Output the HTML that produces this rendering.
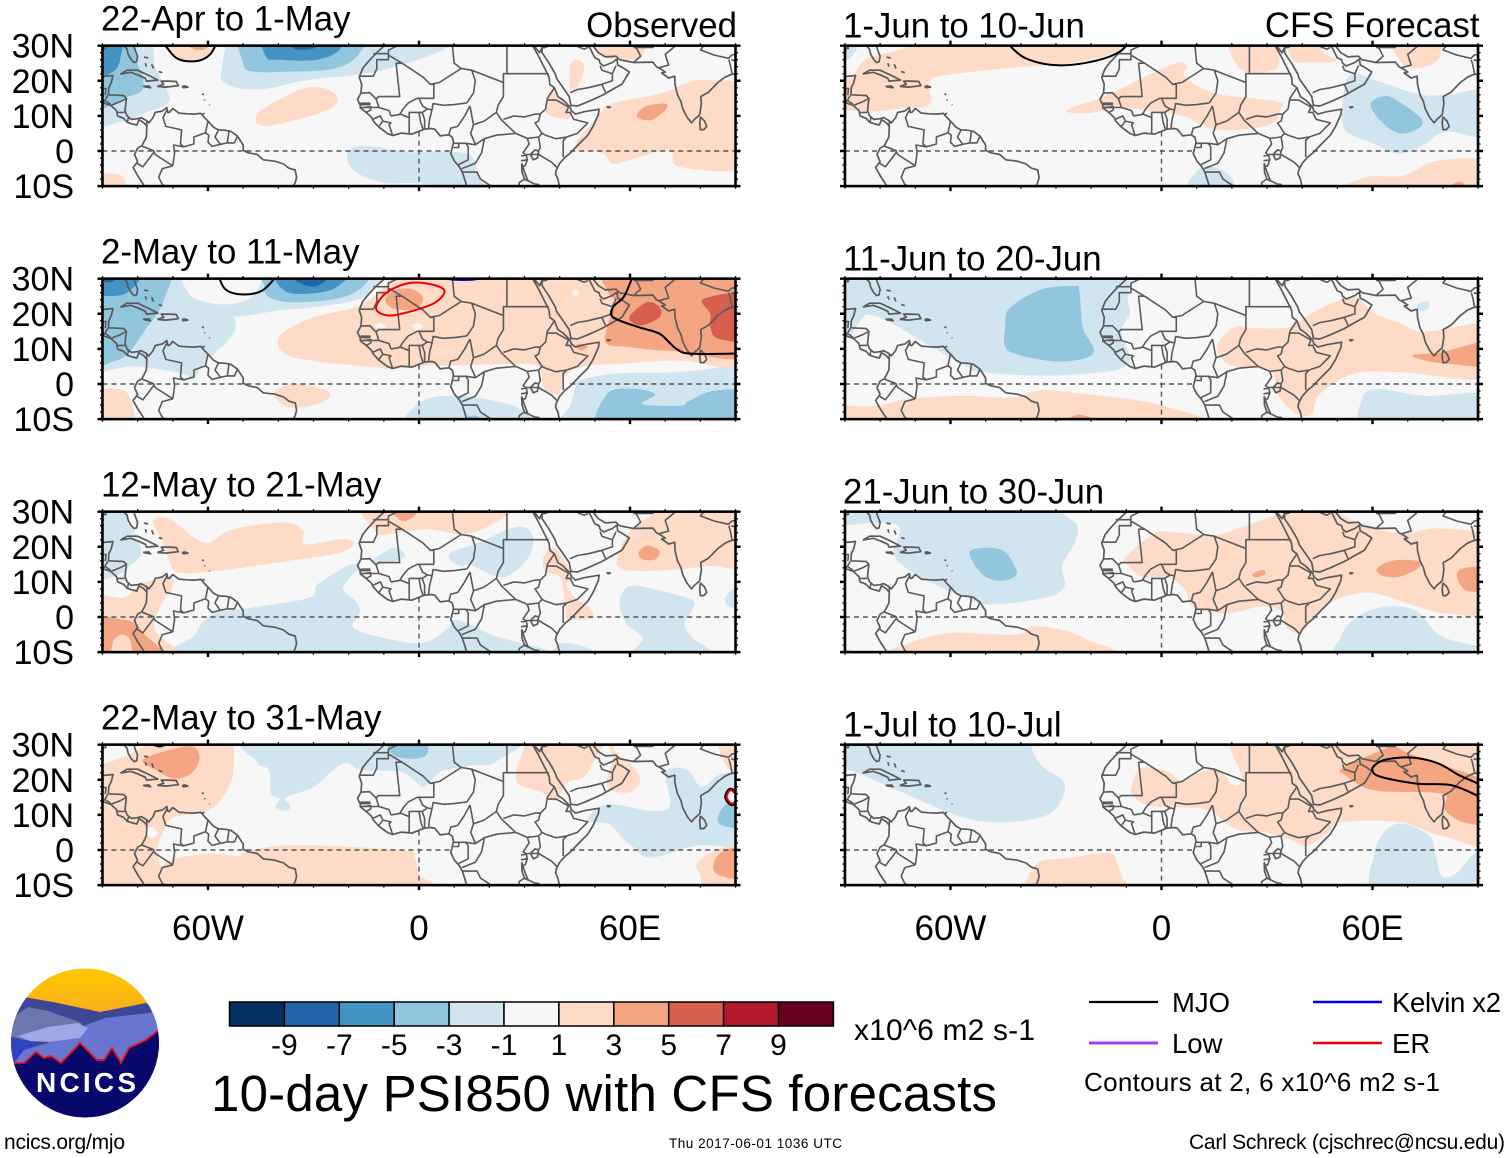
<!DOCTYPE html>
<html lang="en">
<head>
<meta charset="utf-8">
<title>10-day PSI850 with CFS forecasts</title>
<style>
html,body{margin:0;padding:0;background:#fff;}
svg{display:block;font-family:"Liberation Sans",Arial,sans-serif;}
</style>
</head>
<body>
<svg id="chart" xmlns="http://www.w3.org/2000/svg" width="1510" height="1158" viewBox="0 0 1510 1158">
  <rect x="0" y="0" width="1510" height="1158" fill="#ffffff"/>
  <g id="panels"></g>
  <g id="colorbar"></g>
  <text x="854" y="1040" font-size="30" textLength="181">x10^6 m2 s-1</text>
  <text x="211" y="1111" font-size="51" textLength="786">10-day PSI850 with CFS forecasts</text>
  <g>
    <line x1="1089" y1="1002" x2="1158" y2="1002" stroke="#000" stroke-width="2.2"/>
    <text x="1172" y="1012" font-size="27.5">MJO</text>
    <line x1="1313" y1="1002" x2="1382" y2="1002" stroke="#0000ee" stroke-width="2.4"/>
    <text x="1392" y="1012" font-size="27.5" textLength="109">Kelvin x2</text>
    <line x1="1089" y1="1043" x2="1158" y2="1043" stroke="#a83cf0" stroke-width="3"/>
    <text x="1172" y="1053" font-size="27.5">Low</text>
    <line x1="1313" y1="1043" x2="1382" y2="1043" stroke="#f00000" stroke-width="2.4"/>
    <text x="1392" y="1053" font-size="27.5">ER</text>
    <text x="1084" y="1091" font-size="26" textLength="356">Contours at 2, 6 x10^6 m2 s-1</text>
  </g>
  <text x="4" y="1149" font-size="21" textLength="121">ncics.org/mjo</text>
  <text x="669" y="1148" font-size="13.5" textLength="173">Thu 2017-06-01 1036 UTC</text>
  <text x="1189" y="1149" font-size="21" textLength="316">Carl Schreck (cjschrec@ncsu.edu)</text>
  <g>
    <defs>
      <clipPath id="logo-clip"><ellipse cx="85" cy="1043" rx="74" ry="74.5"/></clipPath>
      <linearGradient id="logo-sky" x1="0" y1="0" x2="0" y2="1"><stop offset="0" stop-color="#ffc800"/><stop offset="1" stop-color="#f7a81f"/></linearGradient>
    </defs>
    <g clip-path="url(#logo-clip)">
      <rect x="10" y="968" width="150" height="55" fill="url(#logo-sky)"/>
      <polygon points="10,1005 24,997 53,1002 100,1012 146,1003 160,1012 160,1050 10,1050" fill="#3d4795"/>
      <polygon points="10,1020 28,1007 48,1011 82,1023 70,1034 40,1040 10,1040" fill="#6b78ad"/>
      <polygon points="60,1060 86,1025 105,1018 158,1012 160,1070 60,1070" fill="#6876d2"/>
      <polygon points="10,1036 30,1042 50,1046 22,1062 10,1064" fill="#3044c2"/>
      <polygon points="18,1036 48,1027 78,1023 88,1028 80,1038 50,1042 30,1041" fill="#a0a9e6"/>
      <polygon points="14,1063 24,1050 50,1042 80,1038 88,1028 130,1025 158,1012 158,1030 146,1040 129,1048 121,1063 112,1048 104,1060 97,1060 80,1043 61,1063 51,1056 44,1058 36,1052 24,1063" fill="#6876d2"/>
      <polygon points="8,1063 24,1063 36,1052 44,1058 51,1056 61,1063 80,1043 97,1060 104,1060 112,1048 121,1063 129,1048 146,1040 160,1029 162,1120 8,1120" fill="#07076c"/>
      <polyline points="14,1063 24,1063 36,1052 44,1058 51,1056 61,1063 80,1043 97,1060 104,1060 112,1048 121,1063 129,1048 146,1040 160,1029" fill="none" stroke="#ee1111" stroke-width="1.8"/>
    </g>
    <text x="36" y="1092" font-size="28" font-weight="700" fill="#ffffff" textLength="100" lengthAdjust="spacing">NCICS</text>
  </g>
</svg>

<script>
// ---- colour scale ----
const colorbarColors = ['#053061','#2166ac','#4393c3','#92c5de','#d1e5f0','#f7f7f7','#fddbc7','#f4a582','#d6604d','#b2182b','#67001f'];
const colorbarLabels = ['-9','-7','-5','-3','-1','1','3','5','7','9'];
const fillLevels = [-10,-8,-6,-4,-2,0,2,4,6,8,10];

// ---- axis ticks ----
const lonTicks = [-60,0,60];
const lonTickLabels = ['60W','0','60E'];
const latTicks = [30,20,10,0,-10];
const latTickLabels = ['30N','20N','10N','0','10S'];

const panelTitles = ['22-Apr to 1-May','2-May to 11-May','12-May to 21-May','22-May to 31-May','1-Jun to 10-Jun','11-Jun to 20-Jun','21-Jun to 30-Jun','1-Jul to 10-Jul'];

// ---- filled PSI850 contours: [level, [lon,lat, lon,lat, ...]] ----
const panel1Fills = [
 [-2,[-97,36,-75.7,36,-75.5,30,-75,24,-71.6,17.3,-71.6,13.5,-78.4,10.7,-85,8.3,-97,8]],
 [-4,[-97,36,-83,36,-80,25,-78.5,21,-79,17,-84,15,-87,13,-97,12.5]],
 [-6,[-97,36,-85,36,-85,26,-88,22,-97,20]],
 [-2,[-54,36,-55,30,-56,24,-56,20.2,-51,17.8,-43,17.8,-32,20.2,-15.7,22,-3.4,25,8.9,30,12,36]],
 [-4,[-49,36,-50,25,-47,22.6,-37.5,22.6,-24,23.5,-17,27.8,-15.7,36]],
 [-6,[-43.6,36,-43.6,27,-39,26,-29,26,-22.5,29,-21,36]],
 [-8,[-37,32,-35,29,-29,29.5,-27,32]],
 [2,[-73,33,-69,27,-63.4,26,-59.4,28,-57.3,33]],
 [4,[-66,31,-64,29,-61,29,-59,31]],
 [2,[-46.4,9.2,-45,11.6,-39,15,-32,18,-26.6,17.8,-23.2,15.4,-24.5,12.5,-30.7,10,-41.6,7.3,-45.7,7.5]],
 [2,[-92,-7,-84.5,-7,-84,-12,-92,-12]],
 [2,[43,18.3,43,24.5,45,26,47,24,45,18.3]],
 [2,[50.5,33,52,27,60,26,63.4,27,64,33]],
 [2,[42,31,44,29.5,46,32]],
 [2,[36,11,37.5,17.3,40,15.4,43,11.6,42.3,9.2]],
 [2,[44.3,1.1,51,10,55,13.5,69,16.4,75.7,19.2,81,20.2,92,18.8,95,10,92,-4.5,74,-4.5,71,0.2,59.3,-2.7,55,-3.6,52,-0.5]],
 [4,[62,9.7,64,12.5,70,13.5,70,11.6,66,8.8]],
 [-2,[-20.5,-1.7,-18.4,1.1,-11.6,1.1,-3.4,-0.3,13.6,-0.8,17,-7.4,19.8,-12,13.6,-12,0.7,-9.3,-10,-9,-18,-6]]
];
const panel2Fills = [
 [-2,[-97,38,-66,38,-66,30,-65.4,25.7,-58,22.8,-53,20,-53,14,-61.5,5.5,-64,1.5,-67.5,3,-81,5,-90,3.5,-97,3]],
 [-2,[-60,36,-60,23.5,-55,21,-51.6,19.2,-39.6,21,-28.8,22,-16.8,24.3,-10.8,29.5,-10,36]],
 [0,[-66,33,-65.4,25.7,-59,23,-52,23,-47,25.5,-45.5,33]],
 [-4,[-97,36,-71.4,36,-72.6,23.8,-78,15.2,-82.8,8.6,-87.6,6.2,-97,5]],
 [-6,[-97,36,-80,32,-83,26,-90,25,-97,25]],
 [-8,[-95,33,-88,29,-84,33]],
 [-4,[-44,28,-43,25,-37,23.3,-26.4,23.8,-19,25.7,-14.4,29.5,-13,34,-44,34]],
 [-6,[-40.8,29.5,-37,26,-28.8,26,-22.8,28,-20.4,33,-41,33]],
 [-8,[-37,32,-33.6,28.6,-28.8,28,-25,32]],
 [2,[-40.2,11.4,-38.4,14.8,-30,19,-18,21.9,-12,25.7,-8.4,30,-7,37,40,38,97,37,98,5.7,74.4,6.7,56.4,5.7,48,5.2,42,2.9,39.6,-2.9,35.4,-1,34.2,4.8,26.4,5.7,8.4,5.2,0,5.2,-7.2,4.3,-16.8,5.2,-27.6,6.2,-37.2,8.1]],
 [0,[43.5,26,44.5,27,45.5,26,44.5,25]],
 [0,[-12.5,16.5,-11,17.5,-9.5,16.5,-11,15.5]],
 [0,[-2,16.5,-0.5,17.3,1,16.5,-0.5,15.5]],
 [4,[-9.6,24.3,-6,27,-1.2,26.7,1.2,24.3,-1.2,21.4,-7.2,21.4]],
 [4,[50.4,33,54,25.7,55.8,23,53.4,16,53.4,11.4,60,10.5,70.8,9.5,97,9,98,37,50,38]],
 [4,[44.5,11,46.5,11.5,48,10.6,46,9.5]],
 [6,[60,19.5,64.8,23.3,68.4,21.9,68.4,19,63.6,16.7,60.6,17.6]],
 [6,[81,24.3,95,25.2,95,12.9,85.2,12.9,82.8,16.2,82.8,20]],
 [-2,[44.4,-1,45.6,0.95,55.2,2.9,72,3.3,97,3.8,97,-13,37,-13,40.8,-9,43.2,-5.7]],
 [-4,[53.4,-2.9,61.2,-1.4,67.2,-2.9,63.6,-5.7,74.4,-6.2,76.8,-4.8,84,-1.9,95,-2.9,95,-14,53.4,-14]],
 [-2,[-2.4,-12,1.2,-4.8,10.8,-3.3,21.6,-4.8,28.8,-7.1,31.2,-12]],
 [-4,[12.5,-12,14,-9.3,17,-9.3,19,-12]],
 [2,[-40.8,-2,-36,0,-28.8,-1,-25.2,-3,-28.8,-5.7,-37.2,-6.7,-40.8,-3.8]],
 [2,[-93,-2.9,-86.4,-1.4,-82.2,-3.8,-81.6,-13,-93,-13]]
];
const panel3Fills = [
 [-2,[-95,33,-85,33,-82,26.5,-79,18.8,-81.6,15,-86.4,11.7,-95,11.7]],
 [2,[-75.6,27.4,-70.8,27.9,-61,21.2,-53,25,-38,26.9,-33,24.5,-32.4,20.7,-21.6,22.2,-18.6,21,-22.8,18.3,-37,16,-57.6,13.1,-68.4,12.6,-70.8,15.5,-72.6,20.7]],
 [2,[-13.8,33,-12,24,-6,24,2.4,25,12,23.6,18,25,25.2,29.3,26,33]],
 [4,[-7.8,31,-4.8,27.4,-1.2,28.9,0,32]],
 [-2,[-13.2,16,-8.4,19.3,-5.4,19.3,-4.2,17,-10.8,15]],
 [-2,[9,18.3,14.4,20.3,19.2,22.2,25.2,25,30,25.5,32.4,22.6,31.2,16.9,25.2,11.7,20.4,12.1,14.4,15,12,14.5,9,16]],
 [-2,[-63.6,-5,-58.8,0.7,-48,2.6,-31.2,5.5,-28.8,9.3,-20.4,14.5,-16.8,14.5,-21.6,8.3,-18,4.5,-16.8,1.6,-18.6,-3.1,-9.6,-6,1.2,-7.4,8.4,-3.1,10.8,-0.8,20.4,-5,34,-12,-66,-13]],
 [-2,[57,4.5,60,8.8,67.2,7.8,77.4,5,78,2.6,75.6,-2.2,78,-6,84,-12,61,-12,63.6,-6,59,-2]],
 [-2,[40.2,-7.7,46.8,-8.4,52,-12,38,-12]],
 [-2,[93,9.8,87.6,6.4,87.6,3.5,93,2]],
 [2,[56.4,16.9,60,24.5,66,28.9,74.4,33,95,34,95,15,82.8,14.5,74.4,13.6,62.4,13.1,57,14]],
 [4,[62.4,18.3,64.8,20.3,68.4,18.8,67.2,16.4,63.6,16.4]],
 [2,[35.4,16.9,38.4,19.8,42,15,43.8,11.6,42,9.3,44.4,5.5,48.6,2.6,49.2,-0.3,44.4,-0.8,42,-0.3,41.4,4.5,40.2,11.2,36,13]],
 [2,[-95,5.5,-84,5.5,-79.2,9.3,-70.8,11.2,-70.2,8.3,-73.8,2.6,-75,-4,-68,-12,-95,-12]],
 [4,[-95,-0.3,-84,-0.8,-80.4,-2.2,-78,-5,-72.5,-12,-95,-12]],
 [2,[-87,-7,-84.6,-5,-82.2,-6.5,-82,-12,-87,-12]]
];
const panel4Fills = [
 [2,[-97,24.6,-90,24.6,-84,26.6,-78,29.4,-75.6,31,-55.2,33,-52.8,22.7,-55.2,16,-60,11.2,-69.6,9.3,-72.6,5.5,-74.4,0.7,-73.8,-3.6,-71,-12,-97,-12]],
 [0,[-78,6,-75.5,6.5,-74.5,4.5,-76.5,3.5]],
 [2,[-73.8,-6,-69.6,-2.6,-58.8,-1,-51.6,-1.7,-49,-0.4,-39.6,1.2,-26.4,1.2,-3.6,-0.2,-1.2,-2.2,0,-7,2,-13,-74,-13]],
 [4,[-78.6,25.6,-70.8,28.5,-64.2,29.4,-62.4,26,-64.8,21.8,-69.6,20.3,-73.8,22.2]],
 [-2,[-46,33,-46,25,-42.6,22.7,-42,16,-39.6,14.5,-40.8,12.2,-37.8,11.2,-36.6,12.6,-37.8,15,-30,17.9,-21.6,24.6,-16.2,22.7,-4.8,22.2,1.2,17.9,6,22.2,14.4,24,21.6,25,25.2,33]],
 [-4,[-8.4,31,-7.2,27,-1.2,26,2.4,27.5,1.2,32]],
 [2,[27.6,21.3,28.8,26,33.6,33,52,33,49.8,25.6,46.8,20.8,42,19,39,14,34.8,16.5,28.8,18.4]],
 [2,[53,32,56.4,27.5,60,24.6,63,19.8,60,16.5,54.6,17,53.4,19.8,55,26]],
 [2,[85.2,33,87.6,23.7,94,22,94,33]],
 [-2,[48,8.4,53.4,13,66,11.2,71.4,12.7,70.2,22.2,76.2,22.9,80.4,18,86.4,21.8,95,20.8,95,2.6,79,1.2,66,-2.2,61,0.7,57.6,3.6,54,7.4]],
 [-4,[85,9.3,87.6,13.2,94,15,94,6.5,86.4,7]],
 [2,[79,-4,84,-0.3,94,1.2,94,-12,82,-11,80,-7]],
 [4,[84,-3,87.6,0.2,94,0.2,94,-8,85,-7]]
];
const panel5Fills = [
 [-2,[-92,32,-86,32,-88,27,-92,26]],
 [2,[-88.2,21.3,-84,26.2,-73.8,29,-63,33,-10,33,-10.2,30,-16.2,27,-28.2,24.7,-41.4,23.8,-61.8,21.5,-66,19.4,-66,13.2,-73.8,12.2,-82.8,11.3,-97,13,-97,18]],
 [2,[-27,11.2,-24.6,12.7,-16.2,15.6,3,24.7,7.2,24.2,6.6,21.3,15,16.5,33,14.1,33.6,11.7,30.6,7.4,16.2,6,6.6,9.8,-1.8,11.3,-11.4,12.2,-21,10.8]],
 [2,[19.2,33,21,25.2,25.2,22.3,32.4,23.3,33.6,27.1,33,33]],
 [2,[36,33,37.2,26,42.6,25.2,49.8,25.7,46.2,28,44,33]],
 [2,[65.4,33,68.4,25,73.8,23.7,79,26.6,78,33]],
 [-2,[51.6,14.6,54,21.8,63,19.4,73.8,16,81,16,95,17,95,4,81,5.5,75,2,67.8,-0.8,60.6,2,52.2,6]],
 [-4,[59.4,13.2,63,15.6,66.6,14.6,73.8,9.3,73,6.4,67.8,5,63,7.9]],
 [-2,[7.2,-12,10.2,-5.6,15,-4.6,19.8,-7.5,20,-12]],
 [2,[52.8,-12,58.2,-7.5,69,-7,78.6,-2.7,95,-3.2,95,-13]],
 [4,[81,-12,84.6,-8.7,88,-12]]
];
const panel6Fills = [
 [-2,[-9,36,-9,30,-9.6,24,-9,20.2,-11.4,15.4,-10.2,11,-9,6.7,-13.8,3.8,-33,2.4,-51,3.4,-57,5.8,-67.8,12,-75,16.3,-82.8,19.7,-85.8,17.8,-89.4,13,-97,13,-97,36]],
 [-4,[-44.4,16.8,-43.2,21.6,-34.2,26.9,-24.6,27.9,-23.4,27,-22.8,20.2,-22.2,15.4,-19.2,9.6,-22.2,7.2,-30.6,6.5,-40.2,8.2,-44.4,10.5]],
 [2,[16.2,12,21,16.3,27,15.9,36.6,16.3,42.6,20.2,51,24,55.8,24.5,60.6,20.2,67.8,17.3,75,14.9,95,16.8,95,1.9,67.8,3.4,54.6,2.9,45,-2.9,42.6,-8.7,37.8,-8.2,33,-2.9,31.8,2.9,28.2,4.3,19.8,5.3,16.2,8.7]],
 [4,[71.4,8.2,79.8,9.1,95,12.5,95,5.3,81,5.8,75,6.7]],
 [-2,[72.6,22.6,75.6,23.6,76.2,22,73.8,20.7]],
 [-2,[57,-4.3,61.8,-1.4,75,-3.4,95,-2.9,95,-13,59.4,-13]],
 [2,[-95,-6.7,-81,-6.2,-72.6,-4.3,-57,-3.4,-42.6,-3.9,-35.4,-1.9,-25.8,-2.4,0.6,-6.2,8,-13,-95,-13]],
 [4,[-28,-12,-23.4,-8.7,-16.2,-12]]
];
const panel7Fills = [
 [-2,[-97,36,-28,36,-28.2,30,-24,26.2,-24.6,21.3,-28.2,14.6,-27.6,8.8,-33,5.5,-48.6,3.6,-57,6,-69,11.7,-76,17.5,-75,26.2,-90,26.2,-97,26.2]],
 [-4,[-54.6,18,-51.6,19.6,-45,18.9,-41.4,13.7,-42,11.3,-46.2,10.3,-51,12.2]],
 [2,[-10.2,17,-1.8,23.8,3,24.2,15,23.3,24.6,26.2,34.2,29.5,46.2,31,55.8,27,67.8,23.8,79.8,25.2,95,21.3,95,2,81,1,72.6,3,59.4,6.9,49.8,5,43.8,0.2,39.6,-4.6,35.4,-2.7,34.2,1.6,28.2,3,18.6,1,9,3,6.6,7.9,1.8,11.3,-5.4,11.3,-9,14.1]],
 [4,[25.8,12.2,28.8,13.4,29.4,12.2,27,11.3]],
 [4,[61.2,13.7,65.4,16,72.6,16,73.2,14.1,67.8,11.5,63,11.7]],
 [4,[84,11.7,86.4,14,95,13.7,95,8.4,87,7.4]],
 [-2,[51,-5.6,55.8,0.2,64.2,3,72.6,1.6,79.8,-5.6,95,-9.4,95,-13,52,-13]],
 [2,[-78,-12,-73.2,-8,-60.6,-4.6,-41.4,-5,-36.6,-2.7,-28.2,-3.7,-21,-6.5,-14,-12]],
 [2,[-92,-9,-88,-9.5,-86,-12,-92,-12]]
];
const panel8Fills = [
 [-2,[-97,36,-37.2,36,-37.2,30,-34.2,24.2,-27.6,18.9,-30,11.7,-36.6,8.8,-47.4,7.9,-58.2,9.8,-73.8,16.5,-90,23.3,-97,25]],
 [2,[-8.4,18,-6,23.3,1.8,22.3,6,19.9,15,23.3,20.4,18.5,22.8,20.9,21,33,50,37,96,37,96,3,79.8,4,67.8,7.9,51,7.9,47.4,5,41.4,1.2,36.6,3,29.4,5,21,6,13.8,11.2,5.4,12.2,-4.2,12.7,-8.4,16]],
 [4,[51.6,23.3,63,28.6,66.6,29.5,71.4,27.1,95,18,95,7.9,85.8,7.9,80.4,11.7,79.8,16,60.6,17,52.2,21.3]],
 [-2,[60.6,-0.8,64.2,6,69,7.4,76.2,4,78,-1.7,79.8,-7.5,84,-6.5,88.8,-1.2,94,-0.8,94,-13,61.8,-13]],
 [2,[-37.8,-7.5,-34.2,-3.2,-25.8,-2.2,-15,-0.8,-12.6,-3.7,-11.4,-7.5,-9.5,-13,-37,-13]]
];

// ---- wave contours: [kind, closed, [lon,lat,...]] ----
const panel1Waves = [['mjo',false,[-73.5,32,-69,26.5,-63.4,25.6,-59.4,27.5,-57,32]]];
const panel2Waves = [
 ['mjo',false,[-57.4,32,-55.2,27.1,-50.4,25.5,-44.4,26.7,-39.5,32]],
 ['mjo',false,[62,32,60.6,30,58.2,24.8,55.2,21.9,55.2,19,62.4,16.2,68.4,14.3,73.2,10,78,8.6,95,8.8]],
 ['er',true,[7.2,26.7,2.4,28.6,-3.6,28.6,-9.6,25.7,-12.2,21.4,-8.4,19.5,-1.2,21,4.8,23.3]],
 ['kelvin',false,[5.5,30.3,10,29.7,15,29.7,19,30.3]]
];
const panel3Waves = [];
const panel4Waves = [
 ['mjo',false,[-77.5,31,-73.8,29.5,-70,31]],
 ['mjo',true,[88.6,17,90.5,15,89,13.2,87.5,15]],
 ['er',true,[88.6,17,90.5,15,89,13.2,87.5,15]]
];
const panel5Waves = [['mjo',false,[-45,32,-39,26.6,-29.4,24.4,-18.6,25.7,-11.4,28.6,-9.5,32]]];
const panel6Waves = [];
const panel7Waves = [];
const panel8Waves = [['mjo',false,[95,16,90,18.9,84.6,21.3,78.6,24.7,71.4,26.3,64,25.8,60.8,24.3,60,22.5,62.5,20.8,72.6,18.9,82.2,18.5,90,15.4,95,13]]];

// ---- base map polylines [lon,lat,...] ----
const coastlines = [
 [-94,29.6,-92,29.6,-90,29.1,-89,29.2,-89.5,30.3,-86,30.3,-84,30,-83,29,-82.7,27.6,-81.8,26,-81,25.2,-80.3,25.4,-80,27,-80.6,28.5,-81.3,30.5],
 [-84.9,21.9,-83,23,-80,23,-77,21.6,-74.2,20.2,-77.5,19.9,-77.8,20.7,-80,21.7,-82,22.4,-84.9,21.9],
 [-74.4,18.4,-72,18.2,-68.4,18.6,-69,19.8,-71.5,19.9,-73.3,19.9,-72.6,19,-74.4,18.4],
 [-78.3,18.3,-76.3,18,-76.8,18.5,-78.3,18.4,-78.3,18.3],
 [-67.2,18,-65.7,18.2,-66.5,18.5,-67.2,18.4,-67.2,18],
 [-78.2,26.7,-77,26.5],[-77.8,25,-77.5,24],[-76,24.7,-75.5,23.5],[-74,22.6,-73,22.3],
 [-61.7,16.3,-61.2,16],[-61,14.7,-60.9,14.4],[-59.6,13.2,-59.5,13],[-61.8,10.2,-61,10.8],
 [-92,18.6,-91,18.7,-90.5,20.5,-90,21.2,-87,21.5,-87.5,19.5,-88.2,18,-88.3,16,-86,15.9,-84,15.8,-83.2,15,-83.6,11.5,-83,10,-81.8,9,-80,9.2,-79,9.5,-77.4,8.6,-76.8,8,-75.6,9.5,-75,11,-73,11.4,-71.7,12.4,-71.4,11,-71,11,-70,12.1,-68.3,10.8,-66,10.6,-64,10.5,-62,10.7,-61,9.5,-60,8.5,-58.5,6.8,-57,6,-55,5.9,-53.5,5.6,-51.6,4.2,-50,1.7,-50,0.2,-48.5,-0.5,-46,-1,-44.3,-2.5,-41,-2.9,-38.5,-3.7,-37,-4.9,-35.2,-5.4,-34.8,-7.5,-35.2,-9,-36,-10.5],
 [-93,15,-92,14.6,-90,13.8,-87.7,13,-86,11.5,-85.7,10,-84,9.3,-83,8.2,-81.5,7.7,-80.2,7.4,-79.6,8.9,-78.2,8,-77.4,7,-77.5,4,-78.8,1.5,-80,0.8,-80.9,-1,-80,-3,-81.3,-4.7,-80,-7,-78.7,-9,-77.5,-11],
 [-6,35.7,-9.5,33,-9.8,30,-12,28,-13,27,-14.8,25,-16,23.5,-17,21,-16.3,19,-16.5,16.5,-17.5,14.7,-16.7,13,-16.7,12.3,-15,11,-13.5,9.6,-13,8.5,-11.5,6.9,-9,5,-7.5,4.4,-5,5.1,-2,4.8,0,5.6,1.5,6.2,3.5,6.4,4.5,6.2,6,4.3,7.5,4.5,8.5,4.6,9.5,3.9,9.8,2.5,9.5,1,9,-0.7,10,-2.8,11.5,-4.5,12.3,-6,13.2,-8.7,13.8,-11],
 [32.6,31,32.3,30,34,27,35.5,24,37,21,37.2,19,38.5,18,39.5,15.5,41,14.5,43,12.5,43.3,11.5,44.5,10.5,47,11.2,51.2,11.9,51,10.4,49.5,7,48,4.5,45.5,2,43,-0.6,41.5,-1.8,40,-3.5,39,-5.5,38.8,-6.5,39.5,-8,40,-10.5],
 [32.6,30,34.3,28,35,29.5,35,28,37,25,38.7,22,39.2,20.5,41,18,42.7,15.5,43.2,13,45,12.8,48,14,52,15.8,55,17.5,57.7,19,59.8,22.5,58,23.7,56.5,24.5,56.3,26.2,55,25.2,52.5,24.2,51.5,25,51.2,26,50,26.5,48.5,29.5,48,30,49,30.5,51,28,53,26.8,56,27,57,26,61,25.2,66.5,25.3,67.5,24,68.5,23.5,70,22.5,69,22.2,71,20.8,72.7,21.3,72.8,19,73.5,16,74.5,14,75,12,76.3,9.5,77.5,8,78.3,9,79.8,10.3,80.3,13.5,80.1,15.5,82.3,16.7,85,19.5,87,21,88.5,21.7,90,22,91,22.5],
 [80,9.7,81.2,8.5,81.8,7,81,6.1,80,6.1,79.8,8,80,9.7],
 [53.4,12.6,54.4,12.5,53.8,12.3,53.4,12.6],
 [31.7,-1,33,0.3,34,0,33.7,-2,32.5,-2.5,31.7,-1],
 [29.2,-3.5,30,-6,31,-8.5,30,-8,29.3,-6,29.2,-3.5]
];
const borders = [
 [-92,14.6,-91,16.5,-91,17.8,-89,17.8,-89.2,15.9],[-88.5,15.8,-89.3,14.4,-90,13.8],[-89.3,14.4,-87.7,13.3],[-83.2,15,-85,14,-87.5,13],[-83.7,11,-85.7,11],[-82.6,9.5,-82.9,8.2],[-77.4,8.6,-77.4,7],
 [-71.5,12,-72.8,9.5,-72,7,-67.5,6,-67.8,2,-66.9,1.2,-69.8,1.7,-69.5,-0.5,-70,-4.2],[-78.8,1.4,-75.5,0.1,-75,-1,-70,-4.2],[-80.3,-3.4,-78.5,-4.5,-75.2,-0.1],[-70,-4.2,-73,-5,-74,-7.5,-73,-9.5,-70.5,-11],
 [-66.9,1.2,-64,2,-64,4,-60.7,5.2,-60,8.5],[-60.7,5.2,-59.8,4.5,-60,2.5,-58.8,1.3,-56.5,1.9],[-57,6,-58,4,-56.5,1.9],[-54,5.8,-54.5,2.3],[-56.5,1.9,-54.5,2.3,-52.5,2.3,-51.6,4.2],
 [-1.7,35,-1.2,32.5,-5,30.5,-8.7,28.7,-8.7,27.7],[-13,27.7,-8.7,27.7,-8.7,26,-12,26,-12,23.4,-13,21.3,-17,21.3],[-8.7,27.3,-4.8,25,-6.5,25,-5.5,15.5,-11.5,15.5,-12.2,14.8],
 [-16.3,16.5,-14,16.6,-12.2,14.8,-11.4,12.4],[-16.7,12.4,-11.4,12.4],[-16.7,13.6,-14,13.6,-14,13.2,-16.7,13.2],[-16.7,12.3,-13.7,12.6,-13.7,11.7,-15,11],[-11.4,12.4,-8.5,11.5,-8,10],[-13.2,9,-11,10,-10.3,8.5,-11.5,6.9],[-10.3,8.5,-8,8,-8.5,7.5,-7.5,4.4],[-8,10,-6,10.3,-5.3,10.5,-2.8,9.5,-2.8,5],[-2.8,9.5,-2.8,11,0,11,0.9,11],[1.2,6.1,0.5,8,0,11],[-5.4,10.5,-4.5,12,-3,13.7,-0.5,15,4.2,15,4.2,19],[0.9,11,2.4,12,3.7,11.7],[0,15,1,12.8,2.4,12],[1.6,6.2,1.6,9,0.9,11],[2.7,6.4,3,9,3.7,11.7,4,13.5,7,13,10,13.2,13.6,13.7],[8.5,4.6,9,6.5,11,7,13,10,14.5,12.8],
 [-4.8,25,1.2,21,3.2,19,4.2,19],[3.2,19,5.8,19.5,12,23.5],[9.5,30,10,25,12,23.5,15,23,16,20,15.5,16.5,13.6,13.7],[15,23,24,19.5,24,22,25,22,25,31],[25,22,36.9,22],[24,19.5,24,15.5,22.5,13,22,11],[15.5,7.5,18.5,8.5,22,11,23.5,8.8,27.5,5],[18.6,3.5,22,4.5,27.5,5],[14.5,12.8,15,10,15.5,7.5,14.7,5,16,2],[9.8,2.2,13.3,2.2,16,1.8,18.6,3.5,17.8,-0.5,16,-3.5,12.2,-5],[11.2,-3.9,14,-2.5,14,1.2,13.3,2.2],[9.8,1,11.3,1,11.3,2.2],[12.3,-6,16.5,-6,17.5,-8,22,-11],
 [38.5,18,36.5,15,36,12,34.5,10.5,34,8.5,33,8,35,5],[36.5,14.5,39,14.5,42.5,12.5,41.8,11,43.3,11],[43,11,44,9,48,8,45,5,42,4,39,3.5,36,4.5,35,5],[41,-1.7,41,3,42,4],[24,9,27,10,30,9.7,33,10.5,34.5,10.5],[27.5,5,30.8,3.6,34,4,35,5],[34,4,34.5,1,34,0],[30.8,3.6,31.3,2,29.6,-0.5,30.5,-1.2],[30.5,-1,34,-1,37.7,-3.2,39.2,-4.7],[29,-1.4,30.5,-1.2,30.8,-2.5,29,-2.8],[30.8,-2.5,30.2,-4.2,29.3,-4.4],[30,-8,32.9,-9.4,34,-9.5,35,-11.5],[30,-8,28.5,-9,28.5,-11],[39.8,-10.5,35,-11.5],[34,-9.5,34.5,-12],
 [43,16.6,45,17.5,48,18,52,19,55,20,55,22,52,23,51.5,24.3],[52,19,53,16.7],[55,22,56,24.3],[39,32,42,31,47,29,48,29.5],[37,30,36,29.5,35,29.4],[61,25.2,63,27,62,29,61,30],[68.2,23.7,71,24.5,70,27.5,73,30,74.5,32],[61,29.5,66.5,29.5,67,31],[78,30,81,30,80,28.8,84,27.3,88,26.4,88.9,27.3,92,28],[88.1,26,88.5,24.5,89,22],[88.8,26,92,25,92,21]
];

// Panel frames: key longitude pixel, key latitude pixel
const SCALE_X = 3.517, SCALE_Y = 3.512;
const panelFrames = [[419,151],[419,384],[419,617],[419,850],[1161.5,151],[1161.5,384],[1161.5,617],[1161.5,850]];
const allFills = [panel1Fills,panel2Fills,panel3Fills,panel4Fills,panel5Fills,panel6Fills,panel7Fills,panel8Fills];
const allWaves = [panel1Waves,panel2Waves,panel3Waves,panel4Waves,panel5Waves,panel6Waves,panel7Waves,panel8Waves];
const titleBaselineOffset = [15,15,15,15,8,8,8,8];
const waveColors = {mjo:'#000000',er:'#f00000',kelvin:'#0000ee'};
const NS = 'http://www.w3.org/2000/svg';

function mk(tag, attrs, parent){
  const el = document.createElementNS(NS, tag);
  for(const k in attrs) el.setAttribute(k, attrs[k]);
  parent.appendChild(el);
  return el;
}
function smooth(pts, closed){
  const n = pts.length;
  const at = i => closed ? pts[(i+n)%n] : pts[Math.max(0,Math.min(n-1,i))];
  let d = 'M'+pts[0][0].toFixed(1)+' '+pts[0][1].toFixed(1);
  const last = closed ? n : n-1;
  for(let i=0;i<last;i++){
    const p0=at(i-1),p1=at(i),p2=at(i+1),p3=at(i+2);
    const c1x=p1[0]+(p2[0]-p0[0])/6,c1y=p1[1]+(p2[1]-p0[1])/6;
    const c2x=p2[0]-(p3[0]-p1[0])/6,c2y=p2[1]-(p3[1]-p1[1])/6;
    d+='C'+c1x.toFixed(1)+' '+c1y.toFixed(1)+' '+c2x.toFixed(1)+' '+c2y.toFixed(1)+' '+p2[0].toFixed(1)+' '+p2[1].toFixed(1);
  }
  return d+(closed?'Z':'');
}
function drawPanel(idx, root){
  const frame = panelFrames[idx];
  const xOf = lon => frame[0] + lon*SCALE_X;
  const yOf = lat => frame[1] - lat*SCALE_Y;
  const toPts = a => { const r=[]; for(let i=0;i<a.length;i+=2) r.push([xOf(a[i]),yOf(a[i+1])]); return r; };
  const straight = a => { const p=toPts(a); return 'M'+p.map(q=>q[0].toFixed(1)+' '+q[1].toFixed(1)).join('L'); };
  const left=xOf(-90), right=xOf(90), top=yOf(30), bottom=yOf(-10);

  const g = mk('g',{},root);
  
  

  const clip = mk('clipPath',{id:'clip'+idx},g);
  mk('rect',{x:left,y:top,width:right-left,height:bottom-top},clip);

  const body = mk('g',{'clip-path':'url(#clip'+idx+')'},g);
  const bg = mk('rect',{x:left,y:top,width:right-left,height:bottom-top,fill:colorbarColors[5]},body);
  
  

  allFills[idx].forEach(item=>{
    const fill = colorbarColors[fillLevels.indexOf(item[0])];
    const path = mk('path',{d:smooth(toPts(item[1]),true),fill:fill},body);
    
    
  });

  const coast = mk('path',{d:coastlines.map(straight).join(''),fill:'none',stroke:'#5a5a5a','stroke-width':1.7,'stroke-linejoin':'round'},body);
  
  
  const border = mk('path',{d:borders.map(straight).join(''),fill:'none',stroke:'#5a5a5a','stroke-width':1.6,'stroke-linejoin':'round'},body);
  
  

  const eq = mk('path',{d:'M'+left+' '+yOf(0)+'L'+xOf(9.5)+' '+yOf(0)+'M'+xOf(43)+' '+yOf(0)+'L'+right+' '+yOf(0)+'M'+xOf(0)+' '+yOf(5.5)+'L'+xOf(0)+' '+bottom,fill:'none',stroke:'#555555','stroke-width':1.4,'stroke-dasharray':'5 4'},body);
  
  

  allWaves[idx].forEach(w=>{
    const width = (w[1] && w[0]==='mjo') ? 5 : 2;
    const line = mk('path',{d:smooth(toPts(w[2]),w[1]),fill:(w[1]&&w[0]==='er'&&idx===3)?'#ffffff':'none',stroke:waveColors[w[0]],'stroke-width':width},body);
    
    
  });

  // ticks
  let minor='', major='';
  for(let lon=-90;lon<=90;lon+=10){
    const isMajor = lonTicks.indexOf(lon)>=0;
    const len = isMajor?5:2.5;
    const seg = 'M'+xOf(lon)+' '+(top-len)+'V'+top+'M'+xOf(lon)+' '+bottom+'V'+(bottom+len);
    if(isMajor) major+=seg; else minor+=seg;
  }
  for(let lat=-10;lat<=30;lat+=2){
    const isMajor = latTicks.indexOf(lat)>=0;
    const len = isMajor?5:2.5;
    const seg = 'M'+(left-len)+' '+yOf(lat)+'H'+left+'M'+right+' '+yOf(lat)+'H'+(right+len);
    if(isMajor) major+=seg; else minor+=seg;
  }
  const tickMinor = mk('path',{d:minor,stroke:'#000','stroke-width':1.3,fill:'none'},g);
  
  
  const tickMajor = mk('path',{d:major,stroke:'#000','stroke-width':2.4,fill:'none'},g);
  
  

  const box = mk('rect',{x:left,y:top,width:right-left,height:bottom-top,fill:'none',stroke:'#000','stroke-width':2.6},g);
  
  

  // y labels on left column only
  const isLeft = idx<4;
  if(isLeft){
    latTicks.forEach((lat,i)=>{
      const t = mk('text',{x:74,y:yOf(lat)+12,'font-size':34,'text-anchor':'end'},g);
      t.textContent = latTickLabels[i];
      
      
    });
  }
  // x labels on last row
  if(idx===3||idx===7){
    lonTicks.forEach((lon,i)=>{
      const t = mk('text',{x:xOf(lon),y:940,'font-size':35,'text-anchor':'middle'},g);
      t.textContent = lonTickLabels[i];
      
      
    });
  }
  const title = mk('text',{x:isLeft?101:843,y:top-titleBaselineOffset[idx],'font-size':34.8},g);
  title.textContent = panelTitles[idx];
  
  
  if(idx===0||idx===4){
    const tag = mk('text',{x:right+1.5,y:37,'font-size':34.8,'text-anchor':'end'},g);
    tag.textContent = idx===0?'Observed':'CFS Forecast';
    
    
  }
}
const panelsRoot = document.getElementById('panels');
panelFrames.forEach((f,i)=>drawPanel(i,panelsRoot));

// colour bar
(function(){
  const root = document.getElementById('colorbar');
  const x0 = 229.5, boxW = 54.9, y0 = 1002, h = 24;
  colorbarColors.forEach((c,i)=>{
    const r = mk('rect',{x:x0+i*boxW,y:y0,width:boxW,height:h,fill:c,stroke:'#000','stroke-width':1.5},root);
    
    
  });
  colorbarLabels.forEach((s,i)=>{
    const t = mk('text',{x:x0+(i+1)*boxW,y:1055,'font-size':30,'text-anchor':'middle'},root);
    t.textContent = s;
    
    
  });
})();
</script>
</body>
</html>
